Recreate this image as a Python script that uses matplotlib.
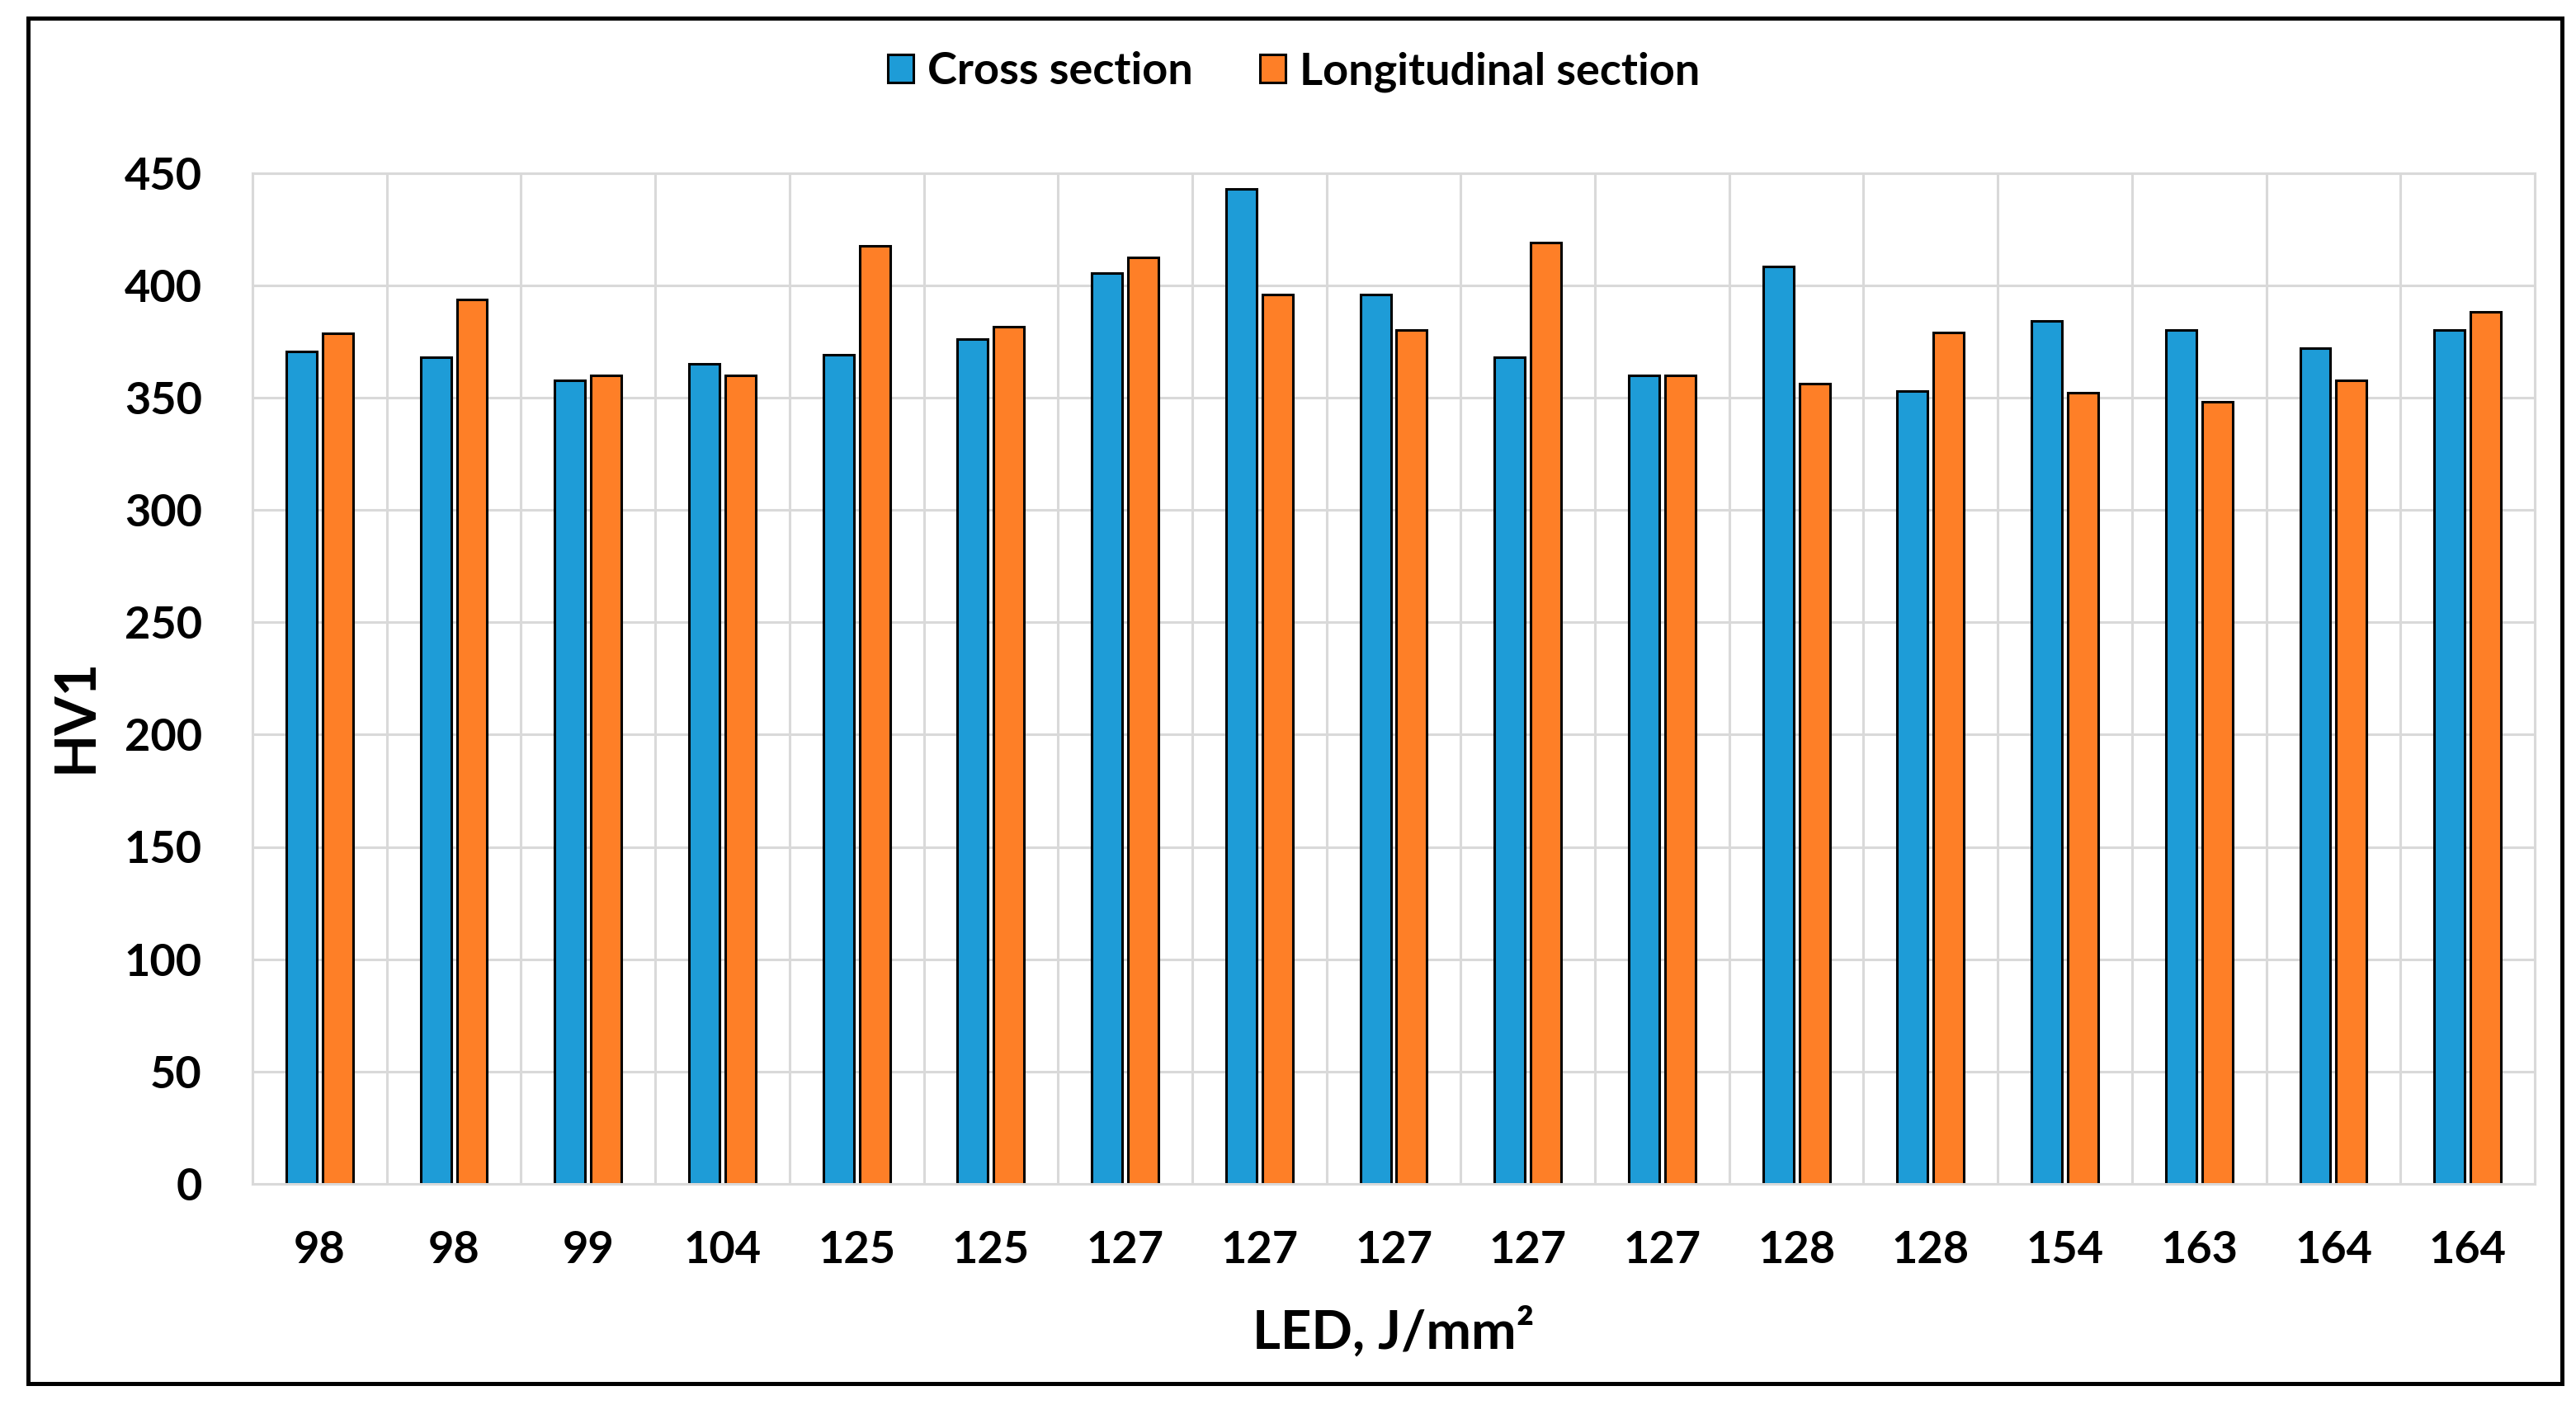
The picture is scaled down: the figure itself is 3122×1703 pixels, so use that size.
import matplotlib.pyplot as plt
from matplotlib.patches import Rectangle, Patch

plt.rcParams['font.family'] = ['Lato', 'DejaVu Sans']
plt.rcParams['font.weight'] = 'bold'

# LED values (J/mm2) shown under each group
led = ['98', '98', '99', '104', '125', '125', '127', '127', '127',
       '127', '127', '128', '128', '154', '163', '164', '164']

# hardness HV1
cross = [370.5, 368, 357.5, 365, 369, 376, 405.5, 443, 396,
         368, 360, 408.5, 353, 384, 380, 372, 380]
longit = [378.5, 393.5, 360, 360, 417.5, 381.5, 412.5, 396, 380,
          419, 360, 356, 379, 352, 348, 357.5, 388]

blue = '#1E9CD7'
orange = '#FE7F27'
grid_col = '#D9D9D9'

W, H = 3122, 1703
fig = plt.figure(figsize=(W / 100, H / 100), dpi=100)
ax = fig.add_axes([306 / W, 1 - 1435 / H, (3072 - 306) / W, (1435 - 209.5) / H])

x = list(range(len(led)))
bw = 0.227
off = 0.135
ax.bar([i - off for i in x], cross, width=bw, color=blue, edgecolor='black', linewidth=2.2)
ax.bar([i + off for i in x], longit, width=bw, color=orange, edgecolor='black', linewidth=2.2)

# axes, ticks and grid
ax.set_xlim(-0.5, len(led) - 0.5)
ax.set_ylim(0, 450)
ax.set_yticks(range(0, 451, 50))
ax.set_xticks(x)
ax.set_xticklabels(led)
ax.set_xticks([i - 0.5 for i in range(len(led) + 1)], minor=True)
ax.tick_params(axis='both', which='both', length=0, labelsize=39)
ax.tick_params(axis='x', which='major', pad=40)
ax.tick_params(axis='y', which='major', pad=44)
ax.set_axisbelow(True)
ax.grid(axis='y', which='major', color=grid_col, linewidth=2.2)
ax.grid(axis='x', which='minor', color=grid_col, linewidth=2.2)
for s in ax.spines.values():
    s.set_color(grid_col)
    s.set_linewidth(2.2)

# axis titles
fig.text(92 / W, 1 - 823 / H, 'HV1', rotation=90, ha='center', va='center_baseline',
         fontsize=49, fontweight='bold')
fig.text(1689 / W, 1 - 1635 / H, 'LED, J/mm²', ha='center', va='baseline',
         fontsize=47, fontweight='bold')

# legend at the top
handles = [Patch(facecolor=blue, edgecolor='black', linewidth=2.2),
           Patch(facecolor=orange, edgecolor='black', linewidth=2.2)]
fig.legend(handles, ['Cross section', 'Longitudinal section'], loc='center',
           bbox_to_anchor=(1568 / W, 1 - 87 / H), ncol=2, frameon=False,
           fontsize=39, handlelength=0.57, handleheight=0.6,
           handletextpad=0.31, columnspacing=1.5)

# black frame around the whole chart
fig.patches.append(Rectangle((34 / W, 1 - 1677 / H), (3105 - 34) / W, (1677 - 22) / H,
                             transform=fig.transFigure, fill=False,
                             edgecolor='black', linewidth=3.6))

fig.savefig('out.png', dpi=100)
